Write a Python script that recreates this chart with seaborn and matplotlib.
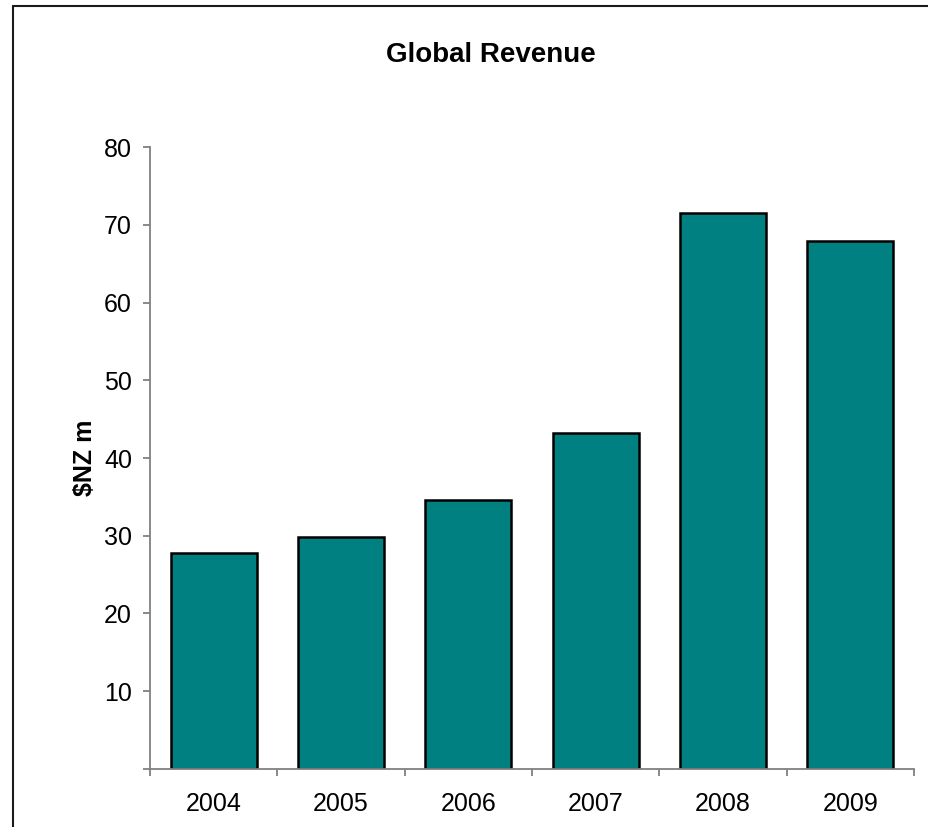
import matplotlib
matplotlib.use("Agg")
import matplotlib.pyplot as plt
from matplotlib.lines import Line2D
from matplotlib.ticker import FixedLocator
import seaborn as sns
import pandas as pd

years = ["2004", "2005", "2006", "2007", "2008", "2009"]
revenue = [27.8, 29.8, 34.6, 43.2, 71.6, 68.0]
y_ticks = [0, 10, 20, 30, 40, 50, 60, 70, 80]
y_tick_labels = ["", "10", "20", "30", "40", "50", "60", "70", "80"]

sns.set_theme(style="white")
plt.rcParams["font.family"] = ["Liberation Sans", "DejaVu Sans"]

df = pd.DataFrame({"year": years, "revenue": revenue})

fig = plt.figure(figsize=(9.29, 8.27), dpi=100)
ax = fig.add_axes([150 / 929, 1 - 768.7 / 827, 764 / 929, 621.4 / 827])

sns.barplot(data=df, x="year", y="revenue", color="#008080", saturation=1,
            edgecolor="black", linewidth=1.8, width=0.675, ax=ax)

ax.set_xlim(-0.5, len(years) - 0.5)
ax.set_ylim(0, 80)
ax.set_yticks(y_ticks)
ax.set_yticklabels(y_tick_labels)
ax.set_xlabel("")
ax.set_ylabel("")

axis_grey = "#808080"
for side in ("top", "right"):
    ax.spines[side].set_visible(False)
for side in ("left", "bottom"):
    ax.spines[side].set_color(axis_grey)
    ax.spines[side].set_linewidth(1.3)

# category boundaries carry the x ticks; labels sit at the centres
ax.xaxis.set_minor_locator(FixedLocator([i - 0.5 for i in range(len(years) + 1)]))
ax.tick_params(axis="x", which="major", length=0, pad=17, labelsize=18, colors="black")
ax.tick_params(axis="x", which="minor", bottom=True, length=5, width=1.3,
               color=axis_grey, direction="out")
ax.tick_params(axis="y", which="major", left=True, length=5, width=1.3,
               color=axis_grey, direction="out", pad=8, labelsize=18, labelcolor="black")

fig.text(85 / 929, 1 - 458 / 827, "$NZ m", rotation=90, ha="center", va="center",
         fontsize=18, fontweight="bold", color="black")
fig.text(0.528, 1 - 55 / 827, "Global Revenue", ha="center", va="center",
         fontsize=20, fontweight="bold", color="black")

# outer chart frame along the top and left edges
frame_x = 13 / 929
frame_y = 1 - 6 / 827
fig.add_artist(Line2D([frame_x, 1.0], [frame_y, frame_y], transform=fig.transFigure,
                      color="#1a1a1a", linewidth=1.5))
fig.add_artist(Line2D([frame_x, frame_x], [0.0, frame_y], transform=fig.transFigure,
                      color="#1a1a1a", linewidth=1.5))

fig.savefig("out.png", dpi=100)
